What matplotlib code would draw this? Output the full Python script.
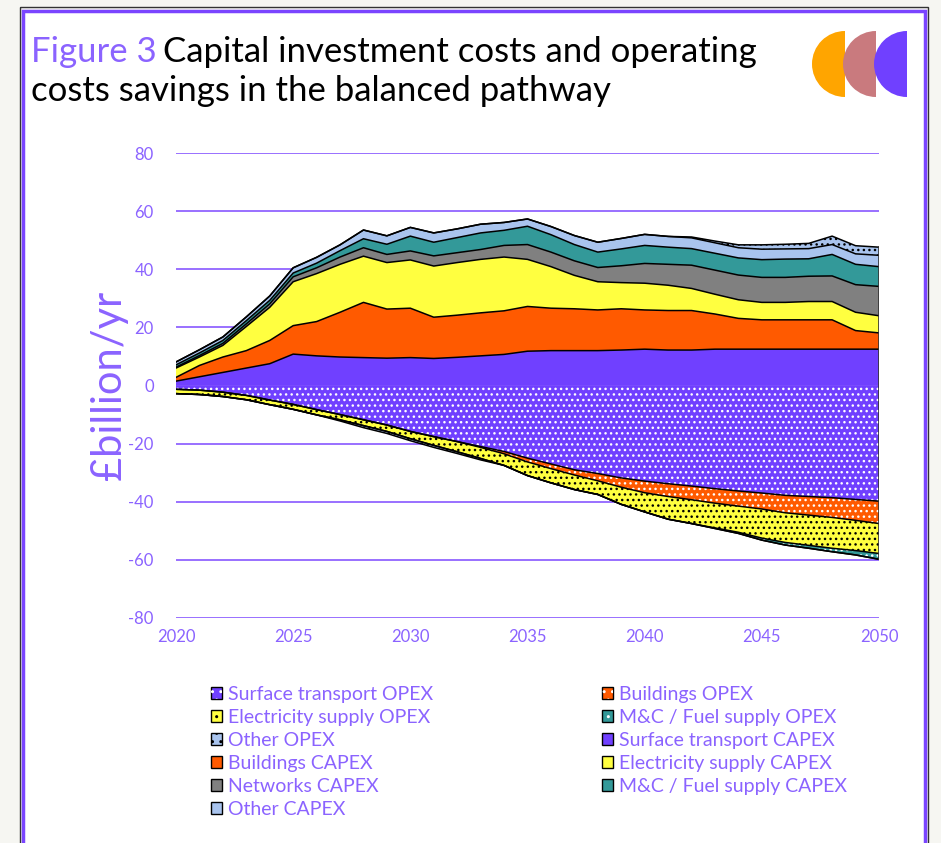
import matplotlib
matplotlib.use("Agg")
import matplotlib.pyplot as plt
import matplotlib.patches as mpatches
import numpy as np

plt.rcParams.update({"font.family": ["Lato", "DejaVu Sans"], "hatch.linewidth": 1.0,
                     "axes.unicode_minus": False})

PURPLE = "#7a45ff"
TXT = "#8b63ff"

years = np.arange(2020, 2051)

# OPEX (savings are negative)
st_opex = [-1.3, -1.6, -2.3, -3.4, -5.0, -6.5, -8.3, -10.0, -11.8, -13.6, -15.8, -17.6, -19.3, -21.0, -22.7,
           -25.0, -27.0, -29.0, -30.3, -31.8, -32.9, -33.8, -34.6, -35.5, -36.3, -37.0, -37.8, -38.2, -38.6, -39.2, -39.8]
bld_opex = [0, 0, 0, 0, 0, 0, 0, 0, 0, 0, 0, 0, 0, -0.3, -0.8,
            -1.3, -1.6, -1.8, -2.5, -3.2, -4.0, -4.4, -4.7, -5.0, -5.2, -5.5, -6.0, -6.4, -6.8, -7.2, -7.7]
elec_opex = [-1.5, -1.5, -1.5, -1.5, -1.6, -1.7, -1.8, -1.8, -2.0, -2.2, -2.5, -3.0, -3.5, -3.8, -4.0,
             -4.7, -4.9, -5.0, -4.7, -5.9, -6.6, -7.8, -8.2, -8.5, -9.0, -10.0, -10.2, -10.4, -10.6, -10.4, -10.3]
mc_opex = [0, 0, 0, 0, 0, 0, 0, 0, 0, 0, 0, 0, 0, 0, 0,
           0, 0, 0, 0, 0, 0, 0, 0, -0.2, -0.4, -0.7, -0.9, -1.0, -1.2, -1.5, -2.0]
other_opex = [0, 0, 0, 0, 0, 0, 0, -0.4, -0.7, -0.7, -0.7, -0.7, -0.6, -0.5, 0,
              0, 0, 0, 0, 0, 0, 0, 0.3, 0.6, 1.0, 1.5, 1.6, 1.8, 2.9, 2.8, 2.8]

# CAPEX
st_capex = [1.5, 3.0, 4.5, 6.0, 7.5, 10.8, 10.2, 9.8, 9.6, 9.4, 9.6, 9.3, 9.7, 10.2, 10.7,
            11.8, 12.0, 12.0, 12.0, 12.2, 12.5, 12.2, 12.2, 12.5, 12.5, 12.5, 12.5, 12.5, 12.5, 12.5, 12.5]
bld_capex = [1.3, 3.9, 5.3, 6.0, 8.0, 9.8, 11.8, 15.4, 19.0, 16.9, 17.0, 14.2, 14.5, 14.8, 15.0,
             15.4, 14.6, 14.4, 14.0, 14.2, 13.5, 13.6, 13.6, 12.1, 10.6, 10.1, 10.1, 10.1, 10.1, 6.4, 5.6]
elec_capex = [3.2, 2.9, 4.0, 8.3, 11.4, 15.1, 16.5, 16.5, 15.9, 16.0, 16.6, 17.6, 18.1, 18.4, 18.5,
              16.2, 14.3, 11.5, 9.7, 9.0, 9.2, 8.7, 7.6, 6.8, 6.4, 6.0, 6.0, 6.3, 6.3, 6.3, 5.9]
net_capex = [0.3, 0.5, 0.7, 0.9, 1.2, 1.7, 2.0, 2.5, 2.9, 2.8, 3.1, 3.5, 3.4, 3.4, 4.0,
             5.1, 5.0, 5.0, 4.9, 5.8, 6.8, 7.2, 8.0, 8.3, 8.5, 8.6, 8.6, 8.7, 8.8, 9.5, 10.1]
mc_capex = [0.8, 0.9, 1.0, 1.1, 1.2, 1.3, 1.6, 2.2, 3.1, 3.5, 5.1, 4.7, 5.2, 5.7, 5.2,
            6.3, 6.0, 5.6, 5.3, 5.8, 6.2, 5.9, 5.7, 5.8, 5.9, 6.1, 6.3, 6.0, 7.4, 7.0, 6.8]
other_capex = [1.0, 1.1, 1.2, 1.3, 1.5, 1.8, 2.0, 2.0, 3.0, 2.9, 3.0, 3.2, 3.0, 3.0, 2.7,
               2.5, 2.8, 3.1, 3.4, 3.6, 3.8, 3.7, 3.7, 3.6, 3.5, 3.6, 3.5, 3.5, 3.4, 3.6, 3.9]

# (label, values, face colour, hatch colour or None)
series = [
    ("Surface transport OPEX", st_opex, "#7040ff", "white"),
    ("Buildings OPEX", bld_opex, "#ff5a00", "white"),
    ("Electricity supply OPEX", elec_opex, "#ffff40", "black"),
    ("M&C / Fuel supply OPEX", mc_opex, "#339999", "white"),
    ("Other OPEX", other_opex, "#a9c4ee", "black"),
    ("Surface transport CAPEX", st_capex, "#7040ff", None),
    ("Buildings CAPEX", bld_capex, "#ff5a00", None),
    ("Electricity supply CAPEX", elec_capex, "#ffff40", None),
    ("Networks CAPEX", net_capex, "#808080", None),
    ("M&C / Fuel supply CAPEX", mc_capex, "#339999", None),
    ("Other CAPEX", other_capex, "#a9c4ee", None),
]

fig = plt.figure(figsize=(9.41, 8.43), dpi=100, facecolor="#f6f6f2")

# frame + logo drawn in pixel coords
bg = fig.add_axes([0, 0, 1, 1], zorder=-5)
bg.set_xlim(0, 941)
bg.set_ylim(843, 0)
bg.axis("off")
bg.add_patch(mpatches.Rectangle((20, 7), 908, 860, facecolor="none", edgecolor="#333333", lw=1))
bg.add_patch(mpatches.Rectangle((23, 11), 902, 860, facecolor="white", edgecolor=PURPLE, lw=2.5))
bg.set_aspect("equal")
for cx, col in [(845, "#ffa500"), (876, "#c97a7e"), (907, "#7040ff")]:
    bg.add_patch(mpatches.Wedge((cx, 64), 33, 90, 270, facecolor=col, edgecolor="none"))

ax = fig.add_axes([176 / 941, 1 - 618 / 843, 703 / 941, 465 / 843])
ax.set_facecolor("none")

pos_base = np.zeros(len(years))
neg_base = np.zeros(len(years))
# CAPEX stack first, then OPEX on top (positive) / below zero (negative)
order = series[5:] + series[:5]
for label, vals, fc, hc in order:
    v = np.array(vals, dtype=float)
    for part, base in ((np.clip(v, 0, None), pos_base), (np.clip(v, None, 0), neg_base)):
        if not part.any():
            continue
        top = base + part
        if hc:
            ax.fill_between(years, base, top, facecolor=fc, edgecolor=hc, hatch="...", linewidth=0, zorder=2)
        else:
            ax.fill_between(years, base, top, facecolor=fc, linewidth=0, zorder=2)
        ax.plot(years, top, color="black", lw=1.1, zorder=3)
        base += part

handles = []
labels = []
for label, vals, fc, hc in series:
    box = mpatches.Patch(facecolor=fc, edgecolor="black", lw=1)
    if hc:
        dots = mpatches.Patch(facecolor="none", edgecolor=hc, hatch="..", lw=0)
        handles.append((box, dots))
    else:
        handles.append(box)
    labels.append(label)

ax.plot([2050, 2050], [neg_base[-1], pos_base[-1]], color="#333333", lw=1.2, zorder=3)

ax.set_xlim(2020, 2050)
ax.set_ylim(-80, 80)
ax.set_yticks(range(-80, 81, 20))
ax.set_xticks(range(2020, 2051, 5))
ax.grid(axis="y", color=PURPLE, lw=1.2, alpha=0.9, zorder=0)
for s in ax.spines.values():
    s.set_visible(False)
ax.tick_params(length=0, colors=TXT, labelsize=12)
ax.tick_params(axis="y", pad=16)
ax.tick_params(axis="x", pad=8)
ax.set_ylabel("£billion/yr", color=TXT, fontsize=30, labelpad=0)

# title
t1 = fig.text(31 / 941, 1 - 62 / 843, "Figure 3", color=TXT, fontsize=25, va="baseline")
fig.canvas.draw()
bb = t1.get_window_extent()
fig.text(bb.x1 / 941 + 0.007, 1 - 62 / 843, "Capital investment costs and operating", color="black",
         fontsize=25, va="baseline")
fig.text(31 / 941, 1 - 101 / 843, "costs savings in the balanced pathway", color="black",
         fontsize=25, va="baseline")

leg_kw = dict(frameon=False, fontsize=14, labelcolor=TXT, handlelength=0.6, handleheight=0.6,
              handletextpad=0.3, labelspacing=0.31, borderpad=0, loc="upper left")
fig.legend(handles[0::2], labels[0::2], bbox_to_anchor=(201 / 941, 1 - 676 / 843), **leg_kw)
fig.legend(handles[1::2], labels[1::2], bbox_to_anchor=(592 / 941, 1 - 676 / 843), **leg_kw)

fig.savefig("out.png", dpi=100, facecolor=fig.get_facecolor())
